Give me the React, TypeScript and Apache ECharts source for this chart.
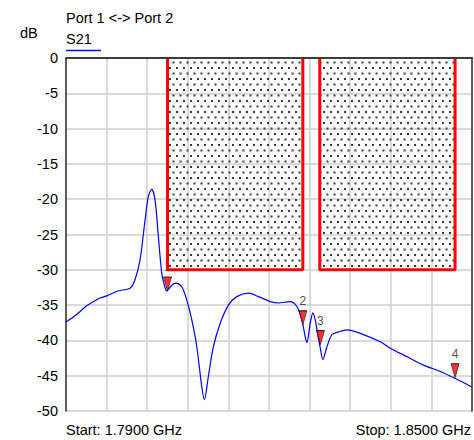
import React, { useEffect, useRef } from "react";
import * as echarts from "echarts";

// ---- data ----
const freqGHz = [
  1.79, 1.79148, 1.79306, 1.79503, 1.79602, 1.79769, 1.79946, 1.8002, 1.80094,
  1.80168, 1.80217, 1.80267, 1.80316, 1.80365, 1.80415, 1.80449, 1.80489,
  1.80563, 1.80627, 1.80711, 1.80785, 1.80859, 1.80933, 1.81007, 1.81045,
  1.81104, 1.81178, 1.81278, 1.814, 1.81525, 1.81696, 1.81844, 1.82017,
  1.8214, 1.82313, 1.82412, 1.82486, 1.82535, 1.8256, 1.82609, 1.82649,
  1.82683, 1.82731, 1.82756, 1.82796, 1.82856, 1.82929, 1.83027, 1.83151,
  1.83348, 1.83644, 1.83792, 1.84039, 1.84284, 1.84531, 1.84753, 1.85,
];
const s21dB = [
  -37.4, -36.4, -35.1, -34.0, -33.7, -33.0, -32.6, -31.4, -28.6,
  -23.0, -19.6, -18.6, -20.1, -25.3, -30.5, -32.0, -33.0,
  -32.2, -31.9, -32.4, -34.3, -37.1, -40.9, -46.6, -48.4,
  -45.1, -40.9, -37.6, -35.0, -33.8, -33.3, -33.8, -34.5,
  -34.7, -34.5, -35.2, -37.1, -39.5, -40.3, -37.6, -36.1,
  -37.1, -39.7, -41.0, -42.7, -40.9, -39.2, -38.8, -38.5,
  -39.0, -40.2, -41.1, -42.3, -43.5, -44.4, -45.4, -46.6,
];
const markerLabels = ["1", "2", "3", "4"];
const markerFreqGHz = [1.805, 1.825, 1.8276, 1.8475];
const markerDB = [-33.0, -37.8, -40.6, -45.3];
const maskStartGHz = [1.805, 1.8275];
const maskStopGHz = [1.825, 1.8475];
const maskTopDB = 0;
const maskBottomDB = -30;
const startGHz = 1.79;
const stopGHz = 1.85;
const yMin = -50;
const yMax = 0;
const yStep = 5;
const gridDivisions = 10;
const titleText = "Port 1 <-> Port 2";
const traceName = "S21";
const unitText = "dB";
const startText = "Start: 1.7900 GHz";
const stopText = "Stop: 1.8500 GHz";

const FONT = "'Liberation Sans', Arial, Helvetica, sans-serif";
const FS = 14.5;

function makeDotPattern(): HTMLCanvasElement {
  const c = document.createElement("canvas");
  c.width = 7;
  c.height = 11;
  const ctx = c.getContext("2d")!;
  ctx.clearRect(0, 0, 7, 11);
  ctx.fillStyle = "#3a3a3a";
  ctx.fillRect(1, 1, 2, 2);
  ctx.fillRect(4.5, 6.5, 2, 2);
  return c;
}

export default function App() {
  const ref = useRef<HTMLDivElement>(null);
  useEffect(() => {
    if (!ref.current) return;
    const chart = echarts.init(ref.current, undefined, { renderer: "svg" });
    const pattern = makeDotPattern();

    const curve = freqGHz.map((f, i) => [f, s21dB[i]]);
    const markers = markerFreqGHz.map((f, i) => ({
      value: [f, markerDB[i]],
      name: markerLabels[i],
    }));
    const maskSeries = maskStartGHz.map((f0, i) => ({
      type: "line",
      xAxisIndex: 1,
      yAxisIndex: 0,
      data: [
        [f0, maskTopDB],
        [f0, maskBottomDB],
        [maskStopGHz[i], maskBottomDB],
        [maskStopGHz[i], maskTopDB],
      ],
      showSymbol: false,
      silent: true,
      z: 5,
      lineStyle: { color: "#ff0000", width: 3 },
      markArea: {
        silent: true,
        itemStyle: {
          color: { image: pattern, repeat: "repeat" },
          borderWidth: 0,
        },
        data: [[{ coord: [f0, maskTopDB] }, { coord: [maskStopGHz[i], maskBottomDB] }]],
      },
    }));

    chart.setOption({
      animation: false,
      backgroundColor: "#fff",
      textStyle: { fontFamily: FONT },
      grid: { left: 66, right: 2, top: 58, bottom: 29 },
      xAxis: [
        {
          type: "value",
          min: 0,
          max: gridDivisions,
          interval: 1,
          position: "bottom",
          axisLine: { show: true, lineStyle: { color: "#333", width: 1.5 } },
          axisTick: { show: false },
          axisLabel: { show: false },
          splitLine: { show: true, lineStyle: { color: "#cfcfcf", width: 1.5 } },
        },
        {
          type: "value",
          min: startGHz,
          max: stopGHz,
          position: "top",
          z: 10,
          axisLine: { show: true, onZero: false, lineStyle: { color: "#333", width: 1.5 } },
          axisTick: { show: false },
          axisLabel: { show: false },
          splitLine: { show: false },
        },
      ],
      yAxis: [
        {
          type: "value",
          min: yMin,
          max: yMax,
          interval: yStep,
          position: "left",
          axisLine: { show: true, onZero: false, lineStyle: { color: "#333", width: 1.5 } },
          axisTick: { show: false },
          axisLabel: { color: "#000", fontSize: FS, margin: 8, fontFamily: FONT },
          splitLine: { show: true, lineStyle: { color: "#cfcfcf", width: 1.5 } },
        },
        {
          type: "value",
          min: yMin,
          max: yMax,
          position: "right",
          z: 10,
          axisLine: { show: true, onZero: false, lineStyle: { color: "#333", width: 1.5 } },
          axisTick: { show: false },
          axisLabel: { show: false },
          splitLine: { show: false },
        },
      ],
      series: [
        {
          type: "line",
          name: traceName,
          xAxisIndex: 1,
          yAxisIndex: 0,
          data: curve,
          showSymbol: false,
          smooth: 0.3,
          z: 3,
          lineStyle: { color: "#0000ff", width: 1.2 },
        },
        {
          type: "scatter",
          xAxisIndex: 1,
          yAxisIndex: 0,
          data: markers,
          symbol: "path://M0,0 L8,0 L4,14 Z",
          symbolKeepAspect: false,
          symbolSize: [8, 14],
          symbolOffset: [0, -7],
          z: 4,
          itemStyle: { color: "#ff0000", borderColor: "#000", borderWidth: 0.8 },
          label: {
            show: true,
            position: "top",
            distance: 3,
            formatter: (p: any) => p.name,
            color: "#222",
            fontSize: 12,
            fontFamily: FONT,
          },
        },
        ...maskSeries,
      ],
      graphic: [
        {
          type: "text",
          left: 66,
          top: 10,
          style: { text: titleText, fontSize: FS, fill: "#000", fontFamily: FONT },
        },
        {
          type: "text",
          left: 66,
          top: 31,
          style: { text: traceName, fontSize: FS, fill: "#000", fontFamily: FONT },
        },
        {
          type: "line",
          shape: { x1: 66, y1: 50.5, x2: 101, y2: 50.5 },
          style: { stroke: "#0000ff", lineWidth: 1.5 },
        },
        {
          type: "text",
          left: 20,
          top: 25,
          style: { text: unitText, fontSize: FS, fill: "#000", fontFamily: FONT },
        },
        {
          type: "text",
          left: 66,
          top: 422,
          style: { text: startText, fontSize: FS, fill: "#000", fontFamily: FONT },
        },
        {
          type: "text",
          right: 3,
          top: 422,
          style: { text: stopText, fontSize: FS, fill: "#000", fontFamily: FONT },
        },
      ],
    });
    return () => chart.dispose();
  }, []);
  return (
    <div
      ref={ref}
      style={{ position: "fixed", left: 0, top: 0, width: 474, height: 440 }}
    />
  );
}
